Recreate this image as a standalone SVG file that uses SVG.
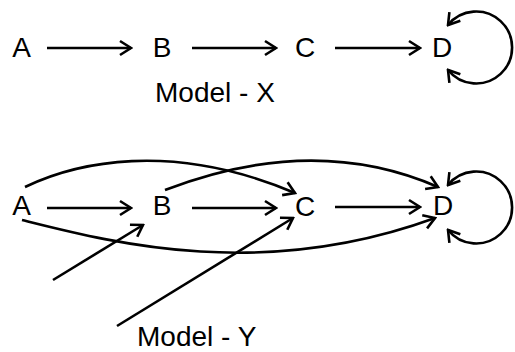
<svg xmlns="http://www.w3.org/2000/svg" width="515" height="352" viewBox="0 0 515 352">
<style>
.lbl{font-family:"Liberation Sans",Arial,sans-serif;font-size:28px;fill:#000;text-anchor:middle}
.cap{font-family:"Liberation Sans",Arial,sans-serif;font-size:28px;fill:#000}
.e{fill:none;stroke:#000;stroke-width:2.6;marker-end:url(#ah)}
.loop{fill:none;stroke:#000;stroke-width:2.6;marker-start:url(#ah);marker-end:url(#ah)}
</style>
<defs>
<marker id="ah" viewBox="-14 -10 16 20" refX="0" refY="0" markerWidth="16" markerHeight="20" markerUnits="userSpaceOnUse" orient="auto-start-reverse">
<path d="M-11,-7 L0,0 L-11,7" fill="none" stroke="#000" stroke-width="2.6" stroke-linejoin="miter"/>
</marker>
</defs>
<rect width="515" height="352" fill="#fff"/>
<g id="connectors">
<path class="e" d="M47,48 H131"/>
<path class="e" d="M192,48 H276"/>
<path class="e" d="M335,48 H420"/>
<path class="loop" d="M448,25 A36,36 0 1 1 448,70"/>
<path class="e" d="M47,208 H131"/>
<path class="e" d="M192,208 H276"/>
<path class="e" d="M335,207 H420"/>
<path class="loop" d="M448,185 A36,36 0 1 1 448,230"/>
<path class="e" d="M25,187 C75,163 170,140 295,193"/>
<path class="e" d="M165,190 C230,165 330,140 438,187"/>
<path class="e" d="M22,220 C110,242 260,282 435,218"/>
<path class="e" d="M53,280 L143,225"/>
<path class="e" d="M117,326 L293,218"/>
</g>
<g id="modelX">
<g id="xA"><text class="lbl" x="21.5" y="57">A</text></g>
<g id="xB"><text class="lbl" x="162" y="57">B</text></g>
<g id="xC"><text class="lbl" x="305" y="57">C</text></g>
<g id="xD"><text class="lbl" x="442" y="57">D</text></g>
<text class="cap" x="155" y="102">Model - X</text>
</g>
<g id="modelY">
<g id="yA"><text class="lbl" x="21.5" y="215">A</text></g>
<g id="yB"><text class="lbl" x="162" y="215">B</text></g>
<g id="yC"><text class="lbl" x="305" y="216">C</text></g>
<g id="yD"><text class="lbl" x="443" y="215">D</text></g>
<text class="cap" x="137" y="346">Model - Y</text>
</g>
</svg>
